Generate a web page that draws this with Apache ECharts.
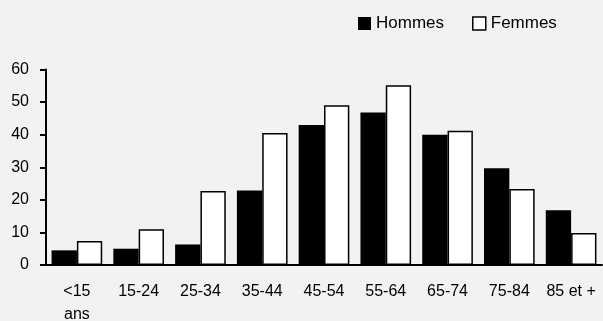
<!DOCTYPE html>
<html>
<head>
<meta charset="utf-8">
<script src="https://cdn.jsdelivr.net/npm/echarts@6/dist/echarts.min.js"></script>
<style>
html,body{margin:0;padding:0;background:#f2f2f2;}
#c{width:603px;height:321px;}
</style>
</head>
<body>
<div id="c"></div>
<script>
var categories = ['<15\nans','15-24','25-34','35-44','45-54','55-64','65-74','75-84','85 et +'];
var hommes = [4.5, 5.0, 6.3, 22.9, 43.0, 46.8, 40.0, 29.7, 16.8];
var femmes = [7.4, 11.0, 22.7, 40.5, 49.0, 55.2, 41.2, 23.3, 9.8];
var yTicks = [0, 10, 20, 30, 40, 50, 60];

var FONT = '"Liberation Sans", Arial, sans-serif';
var chart = echarts.init(document.getElementById('c'), null, {renderer: 'canvas'});
chart.setOption({
  backgroundColor: '#f2f2f2',
  animation: false,
  legend: {
    left: 358, top: 15, padding: 0,
    itemWidth: 13, itemHeight: 13, itemGap: 28,
    icon: 'rect',
    textStyle: {fontFamily: FONT, fontSize: 17, color: '#000'},
    data: [
      {name: 'Hommes', itemStyle: {color: '#000', borderWidth: 0}},
      {name: 'Femmes', itemStyle: {color: '#fff', borderColor: '#000', borderWidth: 1.5}}
    ]
  },
  grid: {left: 46, right: 1, top: 69.5, bottom: 56, containLabel: false, outerBoundsMode: 'none'},
  xAxis: {
    type: 'category', data: categories,
    axisLine: {lineStyle: {color: '#000', width: 2}},
    axisTick: {show: false},
    axisLabel: {fontFamily: FONT, fontSize: 16, color: '#000', margin: 15, lineHeight: 23, interval: 0}
  },
  yAxis: {
    type: 'value', min: yTicks[0], max: yTicks[yTicks.length - 1], interval: 10,
    axisLine: {show: true, lineStyle: {color: '#000', width: 2}},
    axisTick: {show: true, length: 6, lineStyle: {color: '#000', width: 2}},
    splitLine: {show: false},
    axisLabel: {fontFamily: FONT, fontSize: 16, color: '#000', margin: 17}
  },
  series: [
    {
      name: 'Hommes', type: 'bar', data: hommes,
      barGap: '0%', barCategoryGap: '18%',
      itemStyle: {color: '#000'}
    },
    {
      name: 'Femmes', type: 'bar', data: femmes,
      barGap: '0%', barCategoryGap: '18%',
      itemStyle: {color: '#fff', borderColor: '#000', borderWidth: 1.5}
    }
  ]
});
</script>
</body>
</html>
